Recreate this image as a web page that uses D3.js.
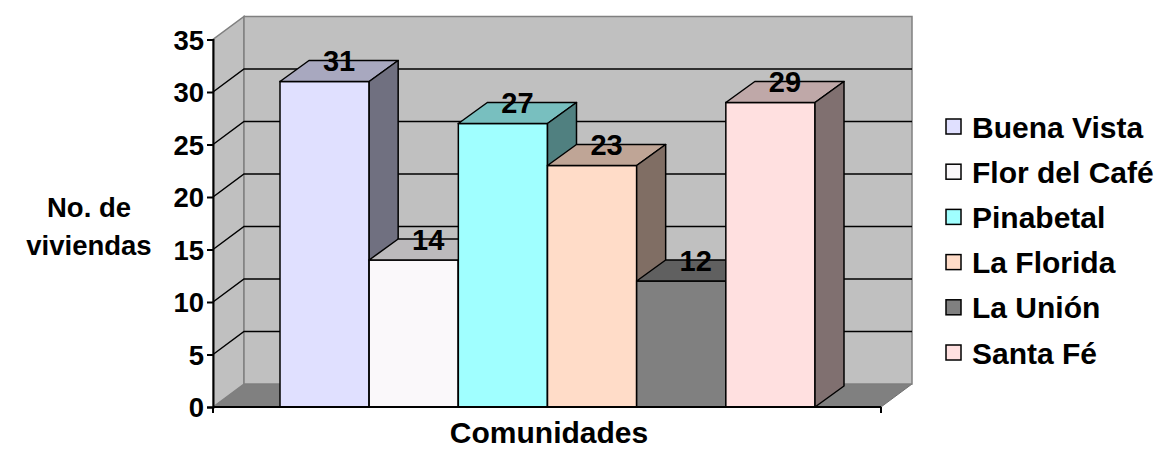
<!DOCTYPE html>
<html>
<head>
<meta charset="utf-8">
<script src="https://cdn.jsdelivr.net/npm/d3@7"></script>
<style>
  html, body { margin: 0; padding: 0; background: #fff; }
  svg text { font-family: "Liberation Sans", Arial, sans-serif; font-weight: bold; fill: #000; }
</style>
</head>
<body>
<svg id="chart" width="1161" height="450"></svg>
<script>
// Number of houses per community
const communities = ["Buena Vista", "Flor del Café", "Pinabetal", "La Florida", "La Unión", "Santa Fé"];
const houses = [31, 14, 27, 23, 12, 29];
const fills = ["#E0E0FF", "#FAF8FA", "#A0FFFF", "#FFDCC8", "#808080", "#FFE0E0"];
const yTickValues = [0, 5, 10, 15, 20, 25, 30, 35];
const yTitle = ["No. de", "viviendas"];
const xTitle = "Comunidades";

const svg = d3.select("#chart");
const SIZE = { tick: 27.5, value: 29, yTitle: 27.5, xTitle: 30, legend: 30 };

// front plane of the 3-D plot box
const front = { left: 213, right: 881, bottom: 407, top: 39.5 };
const wallDepth = { dx: 31, dy: -23 };
const barDepth = { dx: 29, dy: -21 };

const y = d3.scaleLinear().domain([0, 35]).range([front.bottom, front.top]);
const x = d3.scaleBand().domain(communities).range([280, 815]).padding(0);

const shade = (c, k) => {
  const r = d3.rgb(c);
  return d3.rgb(r.r * k, r.g * k, r.b * k).formatHex();
};
const pts = arr => arr.map(p => p.join(",")).join(" ");

// floor
svg.append("polygon")
  .attr("points", pts([
    [front.left, front.bottom], [front.right, front.bottom],
    [front.right + wallDepth.dx, front.bottom + wallDepth.dy],
    [front.left + wallDepth.dx, front.bottom + wallDepth.dy]]))
  .attr("fill", "#808080").attr("stroke", "#707070").attr("stroke-width", 1);

// left side wall
svg.append("polygon")
  .attr("points", pts([
    [front.left, front.bottom], [front.left + wallDepth.dx, front.bottom + wallDepth.dy],
    [front.left + wallDepth.dx, y(35) + wallDepth.dy], [front.left, y(35)]]))
  .attr("fill", "#C0C0C0").attr("stroke", "#808080").attr("stroke-width", 1.5);

// back wall
svg.append("rect")
  .attr("x", front.left + wallDepth.dx)
  .attr("y", y(35) + wallDepth.dy)
  .attr("width", front.right - front.left)
  .attr("height", y(0) - y(35))
  .attr("fill", "#C0C0C0").attr("stroke", "#808080").attr("stroke-width", 1.5);

// gridlines on side and back walls
const grid = yTickValues.filter(v => v > 0 && v < 35);
svg.append("g").selectAll("polyline").data(grid).join("polyline")
  .attr("points", v => pts([
    [front.left, y(v)],
    [front.left + wallDepth.dx, y(v) + wallDepth.dy],
    [front.right + wallDepth.dx, y(v) + wallDepth.dy]]))
  .attr("fill", "none").attr("stroke", "#000").attr("stroke-width", 1.5);

// bars
const bars = svg.append("g");
communities.forEach((name, i) => {
  const v = houses[i];
  const x0 = x(name), x1 = x(name) + x.bandwidth();
  const yv = y(v), y0 = y(0);
  const g = bars.append("g");
  g.append("rect")
    .attr("x", x0).attr("y", yv).attr("width", x1 - x0).attr("height", y0 - yv)
    .attr("fill", fills[i]).attr("stroke", "#000").attr("stroke-width", 1.5);
  g.append("polygon")
    .attr("points", pts([[x0, yv], [x1, yv], [x1 + barDepth.dx, yv + barDepth.dy], [x0 + barDepth.dx, yv + barDepth.dy]]))
    .attr("fill", shade(fills[i], 0.75)).attr("stroke", "#000").attr("stroke-width", 1.5).attr("stroke-linejoin", "round");
  g.append("polygon")
    .attr("points", pts([[x1, yv], [x1 + barDepth.dx, yv + barDepth.dy], [x1 + barDepth.dx, y0 + barDepth.dy], [x1, y0]]))
    .attr("fill", shade(fills[i], 0.5)).attr("stroke", "#000").attr("stroke-width", 1.5).attr("stroke-linejoin", "round");
});

// value labels on the bar tops
svg.append("g").selectAll("text").data(communities).join("text")
  .attr("x", d => x(d) + x.bandwidth() / 2 + barDepth.dx / 2)
  .attr("y", (d, i) => y(houses[i]) + barDepth.dy / 2)
  .attr("text-anchor", "middle")
  .attr("font-size", SIZE.value)
  .text((d, i) => houses[i]);

// y axis
const yAxis = svg.append("g").attr("transform", `translate(${front.left},0)`)
  .call(d3.axisLeft(y).tickValues(yTickValues).tickSize(6).tickPadding(3));
yAxis.select(".domain").attr("stroke", "#000").attr("stroke-width", 2);
yAxis.selectAll(".tick line").attr("stroke", "#000").attr("stroke-width", 2);
yAxis.selectAll(".tick text").attr("font-size", SIZE.tick).attr("font-family", null).attr("dy", "0.36em");

// x axis line with end ticks
const xAxis = svg.append("g").attr("transform", `translate(0,${front.bottom})`);
xAxis.append("line").attr("x1", front.left).attr("x2", front.right)
  .attr("stroke", "#000").attr("stroke-width", 2);
xAxis.selectAll(".edge").data([front.left, front.right]).join("line")
  .attr("x1", d => d).attr("x2", d => d).attr("y1", 0).attr("y2", 6)
  .attr("stroke", "#000").attr("stroke-width", 2);

// axis titles
svg.append("text").attr("x", 549).attr("y", 443).attr("text-anchor", "middle")
  .attr("font-size", SIZE.xTitle).text(xTitle);
svg.append("g").selectAll("text").data(yTitle).join("text")
  .attr("x", 89).attr("y", (d, i) => 217 + i * 38).attr("text-anchor", "middle")
  .attr("font-size", SIZE.yTitle).text(d => d);

// legend
const legend = svg.append("g").attr("transform", "translate(946,127)");
const item = legend.selectAll("g").data(communities).join("g")
  .attr("transform", (d, i) => `translate(0,${i * 45.2})`);
item.append("rect").attr("x", 0).attr("y", -8).attr("width", 15).attr("height", 15)
  .attr("fill", (d, i) => fills[i]).attr("stroke", "#000").attr("stroke-width", 1.5);
item.append("text").attr("x", 26).attr("y", 10.5).attr("font-size", SIZE.legend).text(d => d);
</script>
</body>
</html>
